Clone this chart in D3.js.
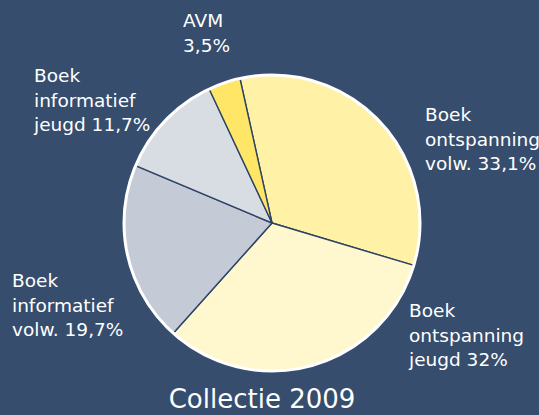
<!DOCTYPE html>
<html>
<head>
<meta charset="utf-8">
<script src="https://cdn.jsdelivr.net/npm/d3@7"></script>
<style>
  html, body { margin: 0; padding: 0; background: #364d6e; }
  svg { display: block; }
</style>
</head>
<body>
<div id="chart"></div>
<script>
// Collectie 2009 - share per category (percent), clockwise from the top
const categories = [
    'Boek ontspanning volw.',
    'Boek ontspanning jeugd',
    'Boek informatief volw.',
    'Boek informatief jeugd',
    'AVM'
];
const shares = [33.1, 32, 19.7, 11.7, 3.5];
const labelLines = [
    ['Boek', 'ontspanning', 'volw. 33,1%'],
    ['Boek', 'ontspanning', 'jeugd 32%'],
    ['Boek', 'informatief', 'volw. 19,7%'],
    ['Boek', 'informatief', 'jeugd 11,7%'],
    ['AVM', '3,5%']
];
const title = 'Collectie 2009';

// layout
const width = 539;
const height = 415;
const cx = 272;
const cy = 223;
const radius = 148;
const colors = ['#fff2a6', '#fff8cf', '#c5cbd6', '#d8dce3', '#ffe666'];
// top-left anchor of each label block (x, first baseline)
const labelAnchor = [
    [425, 121],
    [409, 317],
    [12, 287],
    [34, 82],
    [183, 27]
];
const lineHeight = 24.5;

function renderPie() {
    const svg = d3.select('#chart').append('svg')
        .attr('width', width)
        .attr('height', height);

    svg.append('rect')
        .attr('width', width)
        .attr('height', height)
        .attr('fill', '#364d6e');

    const pie = d3.pie()
        .sort(null)
        .startAngle(-12.5 * Math.PI / 180)
        .endAngle((360 - 12.5) * Math.PI / 180);

    const arc = d3.arc().innerRadius(0).outerRadius(radius);

    const g = svg.append('g').attr('transform', `translate(${cx},${cy})`);

    g.selectAll('path')
        .data(pie(shares))
        .enter()
        .append('path')
        .attr('d', arc)
        .attr('fill', (d, i) => colors[i])
        .attr('stroke', '#2e4466')
        .attr('stroke-width', 1.4)
        .attr('stroke-linejoin', 'round');

    // white rim
    g.append('circle')
        .attr('r', radius)
        .attr('fill', 'none')
        .attr('stroke', '#ffffff')
        .attr('stroke-width', 3);

    const labels = svg.selectAll('text.lbl')
        .data(categories)
        .enter()
        .append('text')
        .attr('class', 'lbl')
        .attr('font-family', '"DejaVu Sans", Verdana, sans-serif')
        .attr('font-size', 18.5)
        .attr('fill', '#ffffff');

    labels.each(function (d, i) {
        const t = d3.select(this);
        labelLines[i].forEach((line, j) => {
            t.append('tspan')
                .attr('x', labelAnchor[i][0])
                .attr('y', labelAnchor[i][1] + j * lineHeight)
                .text(line);
        });
    });

    svg.append('text')
        .attr('x', 262)
        .attr('y', 408)
        .attr('text-anchor', 'middle')
        .attr('font-family', '"DejaVu Sans", Verdana, sans-serif')
        .attr('font-size', 26)
        .attr('fill', '#ffffff')
        .text(title);
}

renderPie();
</script>
</body>
</html>
